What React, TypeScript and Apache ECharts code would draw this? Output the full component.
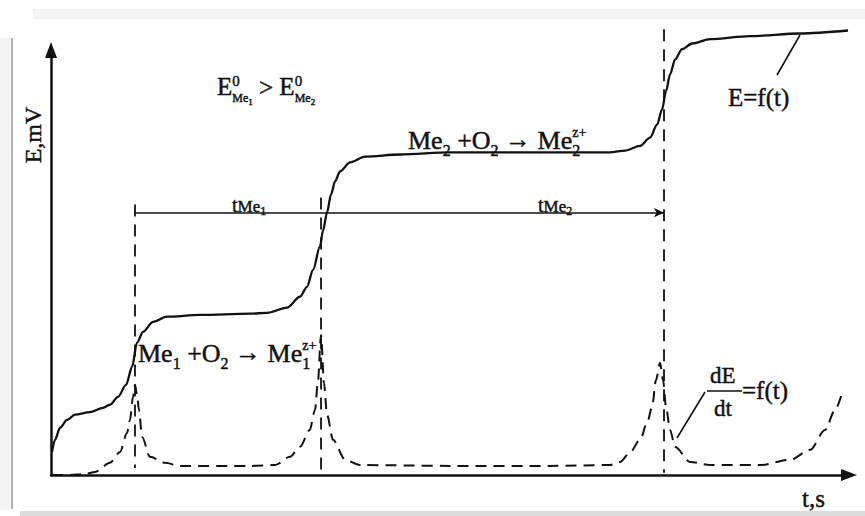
import { useEffect, useRef } from "react";
import * as echarts from "echarts";

// Potential curve E = f(t): time (arbitrary units) and potential (arbitrary units)
const T_E = [0.12, 0.5, 1.12, 1.99, 2.98, 4.84, 6.45, 7.32, 8.31, 9.31, 10.05, 10.67, 11.41, 12.66, 14.39, 18.49, 24.69, 26.8, 29.28, 30.89, 31.76, 32.51, 33.37, 33.75, 34.24, 34.74, 35.24, 35.86, 37.1, 38.96, 43.3, 49.5, 55.7, 61.9, 69.35, 71.22, 73.08, 74.32, 75.19, 75.81, 76.3, 76.8, 77.42, 78.29, 79.53, 81.76, 86.72, 92.93, 98.88];
const E_VAL = [5.3, 8.1, 10.9, 12.7, 13.9, 14.5, 15.5, 16.2, 18.0, 20.8, 24.9, 30.5, 33.0, 35.3, 36.5, 36.9, 37.2, 37.4, 38.6, 41.1, 43.4, 47.3, 52.7, 56.4, 60.5, 64.7, 67.7, 70.0, 72.1, 73.4, 73.9, 74.4, 74.4, 74.4, 74.4, 74.8, 75.9, 77.8, 80.8, 84.3, 88.5, 92.4, 95.8, 98.2, 99.5, 100.5, 101.2, 101.8, 102.5];

// Derivative curve dE/dt = f(t)
const T_D = [0.12, 2.36, 4.22, 5.46, 7.32, 8.56, 9.43, 9.8, 10.17, 10.42, 10.67, 10.92, 11.29, 12.28, 14.14, 16.0, 24.7, 27.8, 29.65, 30.9, 32.1, 32.75, 33.1, 33.5, 33.87, 34.24, 34.99, 36.5, 38.3, 49.5, 61.9, 69.35, 70.6, 71.8, 73.08, 73.95, 74.57, 75.06, 75.56, 75.93, 76.3, 76.8, 77.42, 79.28, 81.76, 87.97, 91.7, 94.17, 96.03, 97.27, 98.14];
const D_VAL = [0, 0, 0.23, 0.7, 2.8, 5.3, 9.7, 12.7, 18, 20.8, 18.5, 15, 8.8, 4.2, 2.8, 2.1, 2.1, 2.3, 4.2, 6.5, 10.4, 15, 21.2, 32.3, 21.2, 13.9, 8.1, 3.5, 2.3, 2.1, 2.1, 2.3, 3.0, 5.1, 8.1, 12, 15.7, 21.9, 25.9, 21.9, 15.7, 10.4, 6.5, 3.0, 2.3, 2.3, 3.5, 5.8, 10.4, 15, 18.9];

// Equivalence points (vertical dashed lines)
const EQUIV_T = [10.42, 33.5, 76.05];
const EQUIV_TOP = [62.4, 64.0, 102.8];
const EQUIV_BOTTOM = [1.6, 0.7, 0.5];
// Time-interval bracket (tMe1, tMe2)
const BRACKET_E = 60.5;

export default function App() {
  const ref = useRef<HTMLDivElement>(null);
  useEffect(() => {
    const chart = echarts.init(ref.current!, null, { renderer: "svg" });
    const serif = "'Liberation Serif', 'Times New Roman', serif";
    const ink = "#111";
    const zip = (a: number[], b: number[]) => a.map((x, i) => [x, b[i]]);
    const ctx = document.createElement("canvas").getContext("2d")!;
    const measure = (text: string, size: number) => {
      ctx.font = `${size}px ${serif}`;
      return ctx.measureText(text).width;
    };
    const T = (text: string, x: number, y: number, size: number, extra: any = {}) => ({
      type: "text",
      x,
      y,
      silent: true,
      ...extra,
      style: {
        text,
        fontSize: size,
        fontFamily: serif,
        fill: ink,
        stroke: ink,
        lineWidth: 0.45,
        align: "left",
        verticalAlign: "middle",
        ...(extra.style || {}),
      },
    });
    // lay out a run of text pieces: [text, size, dy, stackOnPrevious]
    const run = (x0: number, y: number, pieces: [string, number, number, boolean?][]) => {
      let x = x0;
      let lastX = x0;
      const out: any[] = [];
      for (const [text, size, dy, stack] of pieces) {
        const px = stack ? lastX : x;
        out.push(T(text, px, y + dy, size));
        const w = measure(text, size);
        x = stack ? Math.max(x, px + w) : px + w;
        lastX = px;
      }
      return out;
    };
    const axisCommon = {
      type: "value",
      axisLine: {
        show: true,
        onZero: false,
        symbol: ["none", "triangle"],
        symbolSize: [12, 16],
        lineStyle: { color: ink, width: 2.5 },
      },
      axisTick: { show: false },
      axisLabel: { show: false },
      splitLine: { show: false },
    };
    const option: any = {
      animation: false,
      backgroundColor: "#ffffff",
      grid: { left: 51, top: 50, right: 16, bottom: 41 },
      xAxis: { ...axisCommon, min: 0, max: 99 },
      yAxis: { ...axisCommon, min: 0, max: 98 },
      series: [
        {
          name: "E=f(t)",
          type: "line",
          data: zip(T_E, E_VAL),
          showSymbol: false,
          smooth: 0.3,
          smoothMonotone: "x",
          clip: false,
          lineStyle: { color: ink, width: 2.3 },
          z: 5,
        },
        {
          name: "dE/dt=f(t)",
          type: "line",
          data: zip(T_D, D_VAL),
          showSymbol: false,
          smooth: 0.3,
          smoothMonotone: "x",
          clip: false,
          lineStyle: { color: ink, width: 2, type: [11, 7] },
          z: 4,
        },
        ...EQUIV_T.map((t, i) => ({
          type: "line",
          data: [
            [t, EQUIV_TOP[i]],
            [t, EQUIV_BOTTOM[i]],
          ],
          showSymbol: false,
          clip: false,
          lineStyle: { color: ink, width: 1.8, type: [12, 8] },
          z: 3,
        })),
        {
          type: "line",
          data: [],
          showSymbol: false,
          markLine: {
            silent: true,
            symbol: ["none", "arrow"],
            symbolSize: [7, 10],
            label: { show: false },
            lineStyle: { color: ink, width: 1.6, type: "solid" },
            data: [
              [
                { coord: [EQUIV_T[0], BRACKET_E] },
                { coord: [EQUIV_T[2], BRACKET_E] },
              ],
            ],
          },
        },
      ],
      graphic: [
        // scan border artefacts
        { type: "rect", shape: { x: 33, y: 9, width: 832, height: 10 }, style: { fill: "#f3f3f3" }, silent: true },
        { type: "rect", shape: { x: 0, y: 38, width: 10, height: 472 }, style: { fill: "#f4f4f4" }, silent: true },
        { type: "rect", shape: { x: 20, y: 511, width: 845, height: 5 }, style: { fill: "#dcdcdc" }, silent: true },
        { type: "line", shape: { x1: 12, y1: 38, x2: 12, y2: 509 }, style: { stroke: "#666", lineWidth: 1 }, silent: true },
        // axis titles
        T("E,mV", 33, 135, 24, { rotation: Math.PI / 2, style: { align: "center" } }),
        T("t,s", 802, 498, 25),
        // E0 inequality
        ...run(217, 86, [
          ["E", 25, 0],
          ["0", 15, -5],
          ["Me", 12, 12, true],
          ["1", 9, 16],
          [" > ", 25, 1],
          ["E", 25, 0],
          ["0", 15, -5],
          ["Me", 12, 12, true],
          ["2", 9, 16],
        ]),
        // tMe1 / tMe2
        ...run(232, 205, [["t", 20, 0], ["Me", 17, 1], ["1", 12, 6]]),
        ...run(538, 205, [["t", 20, 0], ["Me", 17, 1], ["2", 12, 6]]),
        // Me2 reaction
        ...run(408, 140, [
          ["Me", 26, 0],
          ["2", 16, 10],
          [" +O", 26, 0],
          ["2", 16, 10],
          [" \u2192 ", 26, -1],
          ["Me", 26, 0],
          ["2", 16, 10],
          ["z+", 14, -8, true],
        ]),
        // Me1 reaction
        ...run(138, 353, [
          ["Me", 26, 0],
          ["1", 16, 10],
          [" +O", 26, 0],
          ["2", 16, 10],
          [" \u2192 ", 26, -1],
          ["Me", 26, 0],
          ["1", 16, 10],
          ["z+", 14, -8, true],
        ]),
        // curve labels
        T("E=f(t)", 728, 97, 25),
        { type: "line", shape: { x1: 800, y1: 35, x2: 777, y2: 75 }, style: { stroke: ink, lineWidth: 1.6 }, silent: true },
        T("dE", 710, 375, 23),
        { type: "line", shape: { x1: 707, y1: 391, x2: 742, y2: 391 }, style: { stroke: ink, lineWidth: 1.4 }, silent: true },
        T("dt", 714, 408, 23),
        T("=f(t)", 742, 390, 25),
        { type: "line", shape: { x1: 705, y1: 392, x2: 677, y2: 438 }, style: { stroke: ink, lineWidth: 1.6 }, silent: true },
      ],
    };
    chart.setOption(option);
    return () => chart.dispose();
  }, []);
  return (
    <div
      ref={ref}
      style={{ position: "fixed", left: 0, top: 0, width: 865, height: 516 }}
    />
  );
}
